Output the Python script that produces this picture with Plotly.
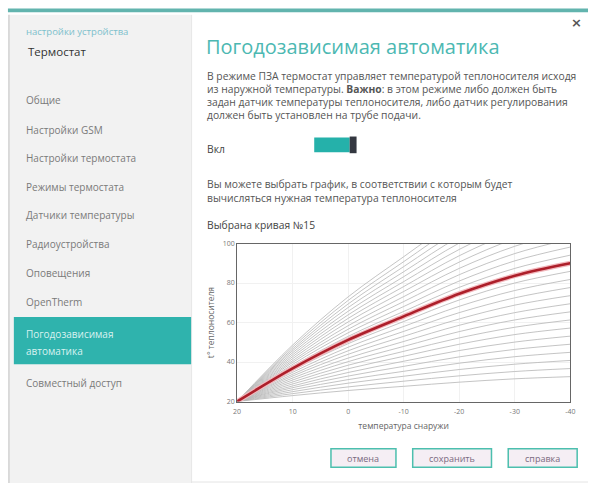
import plotly.graph_objects as go

W, H = 593, 487

# ---------------- data ----------------
outdoor_temp = [20, 10, 0, -10, -20, -30, -40]
x_tick_vals = [20, 10, 0, -10, -20, -30, -40]
x_tick_text = ["20", "10", "0", "-10", "-20", "-30", "-40"]
y_tick_vals = [20, 40, 60, 80, 100]
y_tick_text = ["20", "40", "60", "80", "100"]

curve_numbers = list(range(1, 28))
curve_supply_temps = [
    [20, 23.0, 25.6, 27.7, 29.8, 31.5, 32.6],
    [20, 24.0, 27.4, 30.3, 33.0, 35.2, 36.7],
    [20, 25.0, 29.3, 32.8, 36.2, 38.9, 40.8],
    [20, 26.0, 31.1, 35.3, 39.4, 42.7, 44.9],
    [20, 27.0, 32.9, 37.8, 42.6, 46.4, 49.0],
    [20, 27.9, 34.7, 40.4, 45.8, 50.1, 53.1],
    [20, 28.9, 36.6, 42.9, 49.0, 53.9, 57.2],
    [20, 29.9, 38.4, 45.4, 52.2, 57.6, 61.3],
    [20, 30.9, 40.2, 47.9, 55.4, 61.3, 65.4],
    [20, 31.9, 42.0, 50.4, 58.6, 65.0, 69.5],
    [20, 32.9, 43.9, 53.0, 61.8, 68.8, 73.6],
    [20, 33.8, 45.7, 55.5, 65.0, 72.5, 77.7],
    [20, 34.8, 47.5, 58.0, 68.2, 76.2, 81.8],
    [20, 35.8, 49.3, 60.5, 71.4, 80.0, 85.9],
    [20, 36.8, 51.2, 63.1, 74.6, 83.7, 90.0],
    [20, 37.8, 53.0, 65.6, 77.8, 87.4, 94.1],
    [20, 38.8, 54.8, 68.1, 81.0, 91.2, 98.2],
    [20, 39.8, 56.6, 70.6, 84.2, 94.9, 102.3],
    [20, 40.7, 58.4, 73.1, 87.4, 98.6, 106.4],
    [20, 41.7, 60.3, 75.7, 90.6, 102.4, 110.5],
    [20, 42.7, 62.1, 78.2, 93.8, 106.1, 114.6],
    [20, 43.7, 63.9, 80.7, 97.0, 109.8, 118.7],
    [20, 44.7, 65.7, 83.2, 100.2, 113.5, 122.8],
    [20, 45.7, 67.6, 85.7, 103.4, 117.3, 126.9],
    [20, 46.6, 69.4, 88.3, 106.6, 121.0, 131.0],
    [20, 47.6, 71.2, 90.8, 109.8, 124.7, 135.1],
    [20, 48.6, 73.0, 93.3, 113.0, 128.5, 139.2],
]
selected_curve = 15

menu_items = ["Общие", "Настройки GSM", "Настройки термостата", "Режимы термостата",
              "Датчики температуры", "Радиоустройства", "Оповещения", "OpenTherm"]
menu_y = [97, 127, 156, 185, 214, 243, 273, 303]
selected_menu = ["Погодозависимая", "автоматика"]
last_menu_item = "Совместный доступ"

description_lines = [
    "В режиме ПЗА термостат управляет температурой теплоносителя исходя",
    "из наружной температуры. <b>Важно</b>: в этом режиме либо должен быть",
    "задан датчик температуры теплоносителя, либо датчик регулирования",
    "должен быть установлен на трубе подачи.",
]
hint_lines = [
    "Вы можете выбрать график, в соответствии с которым будет",
    "вычисляться нужная температура теплоносителя",
]
buttons = ["отмена", "сохранить", "справка"]

# ---------------- helpers ----------------
def px(x):
    return x / W

def py(y):
    return 1 - y / H

FONT = "Open Sans"
TEAL = "#2fb3ad"

fig = go.Figure()

for n, ys in zip(curve_numbers, curve_supply_temps):
    if n == selected_curve:
        continue
    fig.add_trace(go.Scatter(x=outdoor_temp, y=ys, mode="lines",
                             line=dict(color="#b5b5b5", width=0.8, shape="spline"),
                             hoverinfo="skip", showlegend=False))
sel = curve_supply_temps[curve_numbers.index(selected_curve)]
fig.add_trace(go.Scatter(x=outdoor_temp, y=sel, mode="lines",
                         line=dict(color="#f2b8bd", width=5, shape="spline"),
                         hoverinfo="skip", showlegend=False))
fig.add_trace(go.Scatter(x=outdoor_temp, y=sel, mode="lines",
                         line=dict(color="#ad1f2a", width=2.6, shape="spline"),
                         hoverinfo="skip", showlegend=False))

shapes = []
# top stripe
shapes.append(dict(type="rect", xref="paper", yref="paper", x0=px(4), x1=px(593), y0=py(7.5), y1=py(3.5),
                   fillcolor="#62b4ae", line=dict(width=0)))
# sidebar
shapes.append(dict(type="rect", xref="paper", yref="paper", x0=px(5), x1=px(190), y0=py(487), y1=py(10),
                   fillcolor="#f2f2f2", line=dict(width=0), layer="below"))
shapes.append(dict(type="line", xref="paper", yref="paper", x0=px(5), x1=px(5), y0=py(487), y1=py(10),
                   line=dict(color="#c8c8c8", width=1.2), layer="below"))
shapes.append(dict(type="line", xref="paper", yref="paper", x0=px(190.5), x1=px(190.5), y0=py(487), y1=py(10),
                   line=dict(color="#e6e6e6", width=1), layer="below"))
# selected menu band
shapes.append(dict(type="rect", xref="paper", yref="paper", x0=px(10), x1=px(190), y0=py(366), y1=py(318),
                   fillcolor=TEAL, line=dict(width=0), layer="below"))
# toggle
shapes.append(dict(type="rect", xref="paper", yref="paper", x0=px(315), x1=px(351), y0=py(150), y1=py(135),
                   fillcolor="#25b1aa", line=dict(width=0)))
shapes.append(dict(type="rect", xref="paper", yref="paper", x0=px(351), x1=px(358), y0=py(151), y1=py(134),
                   fillcolor="#333740", line=dict(width=0)))
# buttons
btn_boxes = [(332, 398), (415, 495), (512, 582)]
for (bx0, bx1) in btn_boxes:
    shapes.append(dict(type="rect", xref="paper", yref="paper", x0=px(bx0), x1=px(bx1), y0=py(471), y1=py(452),
                       fillcolor="#f5eef4", line=dict(color="#4cbfae", width=1.5)))
# bottom line
shapes.append(dict(type="line", xref="paper", yref="paper", x0=px(190), x1=px(593), y0=py(486), y1=py(486),
                   line=dict(color="#e4e4e4", width=1)))

ann = []
def text(x, y, s, size, color, anchor="left", family=FONT):
    ann.append(dict(x=px(x), y=py(y), xref="paper", yref="paper", text=s, showarrow=False,
                    xanchor=anchor, yanchor="middle",
                    font=dict(family=family, size=size, color=color)))

text(20, 27, "настройки устройства", 9.5, "#7cc0cc")
text(22, 47, "Термостат", 11.5, "#333333")
for s, y in zip(menu_items, menu_y):
    text(20, y, s, 10, "#7a7a7a")
text(20, 335, selected_menu[0], 10, "#d8f2f0")
text(20, 353, selected_menu[1], 10, "#d8f2f0")
text(20, 385, last_menu_item, 10, "#7a7a7a")

text(203, 42, "Погодозависимая автоматика", 20, "#4cb8b2")
text(581, 18, "<b>×</b>", 13, "#555555", anchor="center", family="DejaVu Sans")
for i, s in enumerate(description_lines):
    text(204, 72 + i * 13.5, s, 10.3, "#555555")
text(204, 147, "Вкл", 10.3, "#444444")
for i, s in enumerate(hint_lines):
    text(204, 182 + i * 15, s, 10.3, "#555555")
text(204, 224, "Выбрана кривая №15", 10.3, "#444444")
for s, (bx0, bx1) in zip(buttons, btn_boxes):
    text((bx0 + bx1) / 2, 462, s, 9, "#7a6a80", anchor="center")

fig.update_layout(
    width=W, height=H, margin=dict(l=0, r=0, t=0, b=0),
    paper_bgcolor="white", plot_bgcolor="white",
    shapes=shapes, annotations=ann, showlegend=False,
    xaxis=dict(domain=[px(236.7), px(575)], range=[20, -40], tickvals=x_tick_vals, ticktext=x_tick_text,
               showgrid=True, gridcolor="#f1f1f1", zeroline=False,
               showline=True, mirror=True, linecolor="#666666", linewidth=1,
               ticks="outside", ticklen=3, tickcolor="white",
               tickfont=dict(family=FONT, size=7, color="#777777"),
               title=dict(text="температура снаружи", font=dict(family=FONT, size=8.5, color="#666666"), standoff=8)),
    yaxis=dict(domain=[py(404), py(243)], range=[20, 100], tickvals=y_tick_vals, ticktext=y_tick_text,
               showgrid=True, gridcolor="#f1f1f1", zeroline=False,
               showline=True, mirror=True, linecolor="#666666", linewidth=1,
               ticks="", tickfont=dict(family=FONT, size=7, color="#777777"),
               title=dict(text="t° теплоносителя", font=dict(family=FONT, size=8.5, color="#666666"), standoff=6)),
)

fig.write_html("out.html", config={"displayModeBar": False},
               post_script="document.body.style.margin='0';document.body.style.overflow='hidden';")
